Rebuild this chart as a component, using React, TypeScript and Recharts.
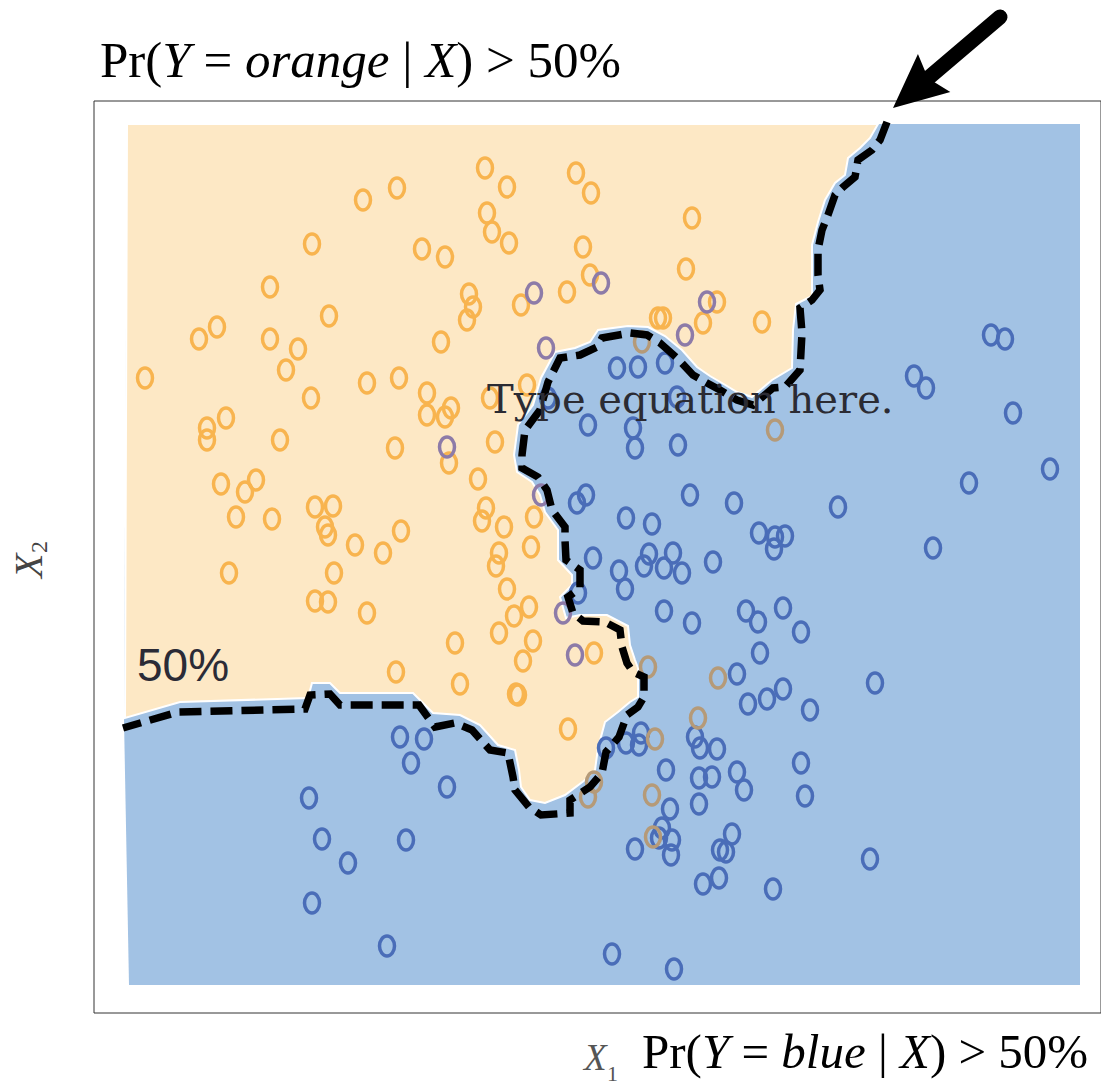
import { ComposedChart, ReferenceArea, ReferenceLine, Scatter, XAxis, YAxis } from 'recharts'

// X1 / X2 in plot units (X1: 0..1007, X2: 0..912)
const orangePts = [
  [391, 845], [413, 826], [482, 840], [497, 820], [303, 825], [269, 813], [393, 800], [398, 781], [415, 770],
  [218, 769], [328, 764], [351, 756], [489, 766], [598, 795], [176, 726], [235, 697], [375, 719], [379, 706],
  [373, 693], [427, 708], [473, 721], [496, 738], [592, 744], [123, 686], [105, 674], [176, 674], [204, 664],
  [192, 643], [347, 671], [51, 635], [273, 630], [305, 635], [217, 615], [333, 620], [333, 598], [351, 596],
  [357, 605], [396, 615], [433, 628], [132, 595], [113, 585], [113, 573], [186, 573], [301, 565], [355, 550],
  [401, 571], [127, 529], [162, 533], [151, 521], [384, 534], [142, 496], [178, 494], [221, 506], [239, 507],
  [231, 486], [234, 478], [261, 468], [307, 482], [289, 460], [135, 440], [240, 440], [221, 412], [234, 411],
  [273, 400], [392, 505], [388, 492], [410, 486], [440, 496], [437, 466], [405, 460], [402, 447], [413, 424],
  [435, 406], [420, 397], [405, 380], [439, 372], [361, 370], [429, 352], [302, 341], [366, 329], [424, 318],
  [422, 319], [474, 284], [500, 360], [564, 695], [569, 695], [609, 690], [668, 691], [623, 711],
]

const bluePts = [
  [523, 645], [544, 646], [571, 650], [583, 616], [454, 615], [494, 588], [539, 585], [541, 565], [584, 568],
  [820, 637], [832, 625], [897, 678], [911, 674], [919, 600], [956, 544], [875, 530], [839, 465], [744, 506],
  [781, 330], [492, 518], [483, 510], [596, 518], [640, 510], [532, 495], [558, 489], [665, 480], [681, 476],
  [691, 477], [680, 464], [499, 455], [555, 459], [579, 460], [550, 447], [570, 445], [588, 440], [619, 451],
  [525, 442], [531, 424], [484, 420], [570, 402], [598, 390], [652, 402], [664, 391], [689, 405], [707, 381],
  [666, 360], [643, 339], [689, 324], [673, 314], [654, 309], [716, 303], [306, 276], [330, 274], [317, 250],
  [353, 226], [215, 215], [228, 174], [254, 150], [312, 173], [218, 110], [293, 67], [518, 59], [580, 44],
  [547, 280], [532, 270], [545, 268], [512, 265], [601, 276], [606, 265], [623, 264], [572, 243], [605, 235],
  [618, 236], [643, 241], [707, 250], [650, 223], [711, 217], [605, 209], [576, 204], [568, 185], [565, 175],
  [578, 173], [577, 158], [541, 164], [638, 179], [626, 163], [632, 161], [625, 135], [609, 129], [679, 124],
  [776, 154],
]

const purplePts = [
  [440, 720], [507, 730], [613, 711], [452, 665], [591, 678], [353, 566], [447, 518], [469, 400], [481, 358],
]

const tanPts = [
  [548, 671], [681, 583], [554, 346], [624, 335], [604, 295], [561, 274], [500, 231], [494, 216], [558, 218],
  [559, 176],
]

// decision regions
const blueRegion = [[33, 889], [986, 889], [986, 28], [35, 28], [30, 293]]

const orangeRegion = [
  [33, 889], [784, 889], [776, 875], [766, 865], [754, 855], [751, 838], [741, 830], [731, 813], [724, 791],
  [718, 768], [718, 717], [702, 709], [699, 683], [698, 645], [678, 633], [658, 616], [643, 621], [628, 630],
  [616, 637], [603, 646], [588, 663], [571, 677], [554, 686], [534, 687], [504, 683], [496, 671], [481, 665],
  [461, 661], [447, 635], [439, 608], [424, 588], [420, 558], [423, 541], [438, 531], [446, 518], [451, 501],
  [464, 483], [464, 453], [478, 438], [478, 428], [466, 416], [472, 395], [486, 398], [513, 398], [534, 387],
  [536, 368], [541, 353], [544, 345], [544, 316], [536, 311], [524, 301], [511, 291], [504, 265], [501, 243],
  [491, 233], [471, 218], [451, 210], [436, 213], [427, 226], [425, 243], [421, 263], [404, 268], [386, 288],
  [366, 298], [339, 300], [319, 320], [246, 320], [236, 330], [218, 330], [214, 315], [86, 311], [31, 295],
]

const boundary = [
  [793, 891], [786, 873], [778, 863], [764, 853], [761, 836], [749, 826], [741, 818], [734, 798], [728, 783],
  [724, 763], [724, 738], [726, 723], [718, 713], [706, 705], [708, 680], [706, 643], [691, 626], [679, 625],
  [659, 608], [643, 613], [626, 623], [613, 630], [599, 638], [583, 655], [566, 670], [553, 678], [536, 680],
  [508, 675], [503, 666], [486, 658], [466, 655], [454, 631], [446, 603], [431, 583], [428, 558], [428, 545],
  [444, 536], [453, 523], [458, 503], [471, 486], [471, 473], [472, 453], [486, 443], [486, 425], [474, 416],
  [479, 400], [489, 392], [511, 391], [526, 383], [528, 366], [533, 350], [539, 341], [550, 336], [550, 316],
  [544, 306], [533, 298], [525, 276], [512, 261], [508, 240], [496, 226], [476, 213], [476, 200], [447, 198],
  [435, 206], [421, 223], [419, 236], [414, 260], [396, 263], [378, 283], [361, 290], [341, 286], [325, 308],
  [246, 308], [236, 319], [216, 318], [211, 304], [84, 301], [29, 285],
]

const arrowFrom = { x: 906, y: 996 }
const arrowTo = { x: 799, y: 905 }

const toData = (a: number[][]) => a.map(([x, y]) => ({ x, y }))

const polyPath = (points: { x: number, y: number }[]) =>
  'M' + points.map(p => `${p.x},${p.y}`).join('L') + 'Z'

const noDot = () => <g />

const ring = (color: string) => (p: any) => (
  <ellipse cx={p.cx} cy={p.cy} rx={7.5} ry={10} fill="none" stroke={color} strokeWidth={3.5} />
)

const Arrow = (p: any) => {
  const { x1, y1, x2, y2 } = p
  const dx = x2 - x1
  const dy = y2 - y1
  const len = Math.hypot(dx, dy)
  const ux = dx / len
  const uy = dy / len
  const hl = 54
  const hw = 25
  const bx = x2 - ux * hl
  const by = y2 - uy * hl
  const nx = bx + ux * 8
  const ny = by + uy * 8
  return (
    <g>
      <line x1={x1} y1={y1} x2={nx} y2={ny} stroke="#000" strokeWidth={15} strokeLinecap="round" />
      <polygon
        points={`${x2},${y2} ${bx - uy * hw},${by + ux * hw} ${nx},${ny} ${bx + uy * hw},${by - ux * hw}`}
        fill="#000"
      />
    </g>
  )
}

const serif = '"Liberation Serif", "Times New Roman", serif'

export default function App() {
  return (
    <div style={{ position: 'absolute', left: 0, top: 0, width: 1101, height: 1088, background: '#fff' }}>
      <ComposedChart width={1101} height={1088} margin={{ top: 101, right: 0, bottom: 75, left: 94 }}>
        <XAxis type="number" dataKey="x" domain={[0, 1007]} hide />
        <YAxis type="number" dataKey="y" domain={[0, 912]} hide />
        <ReferenceArea x1={0} x2={1007} y1={0} y2={912} fill="none" stroke="#333" strokeWidth={1} />
        <Scatter
          data={toData(blueRegion)}
          shape={noDot}
          line={(p: any) => <path d={polyPath(p.points)} fill="#A2C2E4" stroke="none" />}
          isAnimationActive={false}
        />
        <Scatter
          data={toData(orangeRegion)}
          shape={noDot}
          line={(p: any) => <path d={polyPath(p.points)} fill="#FDE8C5" stroke="#fff" strokeWidth={2} />}
          isAnimationActive={false}
        />
        <Scatter data={toData(orangePts)} shape={ring('#F8B44F')} isAnimationActive={false} />
        <Scatter data={toData(bluePts)} shape={ring('#4A6DB8')} isAnimationActive={false} />
        <Scatter data={toData(purplePts)} shape={ring('#8D7BA8')} isAnimationActive={false} />
        <Scatter data={toData(tanPts)} shape={ring('#B59A78')} isAnimationActive={false} />
        <Scatter
          data={toData(boundary)}
          shape={noDot}
          line={{ stroke: '#000', strokeWidth: 7.5, strokeDasharray: '22 9' }}
          lineJointType="linear"
          isAnimationActive={false}
        />
        <ReferenceLine segment={[arrowFrom, arrowTo]} ifOverflow="visible" shape={Arrow} />
      </ComposedChart>
      <svg width={1101} height={1088} style={{ position: 'absolute', left: 0, top: 0, pointerEvents: 'none' }}>
        <text x={100} y={77} fontFamily={serif} fontSize={51} fill="#000">
          Pr(<tspan fontStyle="italic">Y</tspan>{' = '}<tspan fontStyle="italic">orange</tspan>{' | '}
          <tspan fontStyle="italic">X</tspan>{') > 50%'}
        </text>
        <text x={642} y={1068} fontFamily={serif} fontSize={49} fill="#000">
          Pr(<tspan fontStyle="italic">Y</tspan>{' = '}<tspan fontStyle="italic">blue</tspan>{' | '}
          <tspan fontStyle="italic">X</tspan>{') > 50%'}
        </text>
        <text x={584} y={1070} fontFamily={serif} fontSize={37} fontStyle="italic" fill="#555">X</text>
        <text x={607} y={1081} fontFamily={serif} fontSize={22} fill="#555">1</text>
        <g transform="translate(42,578) rotate(-90)">
          <text x={0} y={0} fontFamily={serif} fontSize={40} fontStyle="italic" fill="#444">X</text>
          <text x={25} y={5} fontFamily={serif} fontSize={24} fill="#444">2</text>
        </g>
        <text x={137} y={681} fontFamily='"Liberation Sans", Arial, sans-serif' fontSize={46} fill="#2b2b36">50%</text>
        <text x={487} y={413} fontFamily='"DejaVu Serif", serif' fontSize={40} fill="#2b2b33">Type equation here.</text>
      </svg>
    </div>
  )
}
